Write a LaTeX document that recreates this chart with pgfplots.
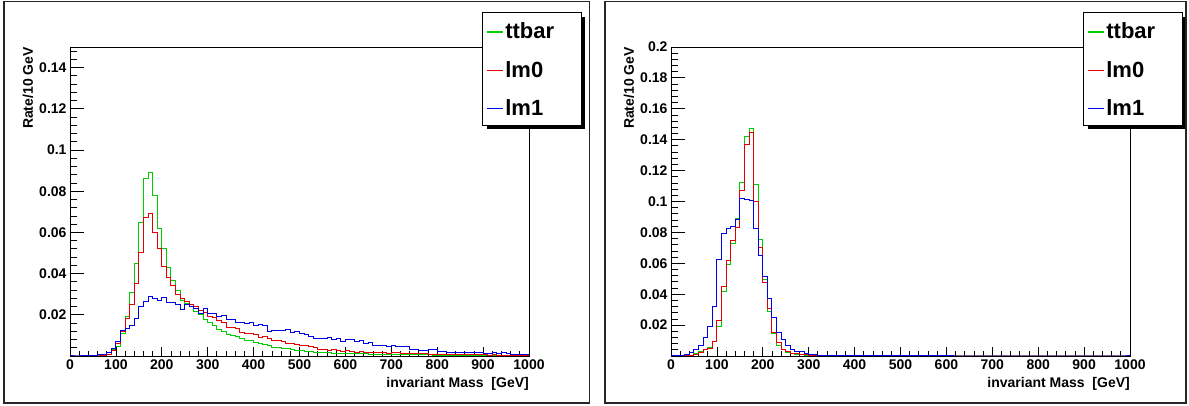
\documentclass[border=0pt]{standalone}
\usepackage{pgfplots}
\pgfplotsset{compat=1.18}
\usepackage{pgfplotstable}
\usepackage{fontspec}
\setmainfont{Liberation Sans}

\definecolor{hgreen}{RGB}{0,205,0}
\definecolor{hred}{RGB}{228,0,0}
\definecolor{hblue}{RGB}{0,0,228}

\pgfplotstableread{
x ttbar lm0 lm1
0 0 0 0
10 0 0 0
20 0 0 0
30 0 0 0.0002
40 0 0 0.0003
50 0 0 0.0004
60 0 0 0.0006
70 0.0002 0.0002 0.0009
80 0.0008 0.0008 0.0016
90 0.003 0.0025 0.0037
100 0.0045 0.006 0.007
110 0.011 0.012 0.0126
120 0.019 0.018 0.0134
130 0.031 0.025 0.0146
140 0.045 0.035 0.018
150 0.065 0.050 0.024
160 0.086 0.067 0.0264
170 0.089 0.069 0.0288
180 0.0777 0.060 0.028
190 0.062 0.052 0.027
200 0.052 0.0435 0.0285
210 0.043 0.038 0.026
220 0.0366 0.034 0.026
230 0.032 0.030 0.025
240 0.027 0.028 0.0227
250 0.0256 0.0265 0.025
260 0.024 0.025 0.024
270 0.0215 0.024 0.023
280 0.020 0.022 0.0207
290 0.0178 0.021 0.023
300 0.0162 0.019 0.0205
310 0.015 0.0185 0.0207
320 0.013 0.017 0.0194
330 0.0118 0.0163 0.0199
340 0.0102 0.0139 0.0175
350 0.0100 0.0139 0.0178
360 0.0094 0.0134 0.0163
370 0.0086 0.0115 0.0163
380 0.0075 0.0110 0.0159
390 0.0073 0.0110 0.0162
400 0.0065 0.0102 0.0150
410 0.0061 0.0091 0.0155
420 0.0058 0.0094 0.0147
430 0.0050 0.0086 0.0120
440 0.0043 0.0074 0.0123
450 0.0042 0.0073 0.0126
460 0.0037 0.0070 0.0126
470 0.0036 0.0061 0.0129
480 0.0032 0.0061 0.0113
490 0.0029 0.0058 0.0118
500 0.0026 0.0050 0.0110
510 0.0024 0.0049 0.0102
520 0.0021 0.0045 0.0094
530 0.0019 0.0039 0.0087
540 0.0019 0.0030 0.0087
550 0.0016 0.0032 0.0087
560 0.0016 0.0029 0.0089
570 0.0013 0.0032 0.0081
580 0.0013 0.0029 0.0086
590 0.0012 0.0023 0.0070
600 0.0012 0.0026 0.0078
610 0.0011 0.0021 0.0078
620 0.0011 0.0016 0.0070
630 0.0010 0.0022 0.0074
640 0.0010 0.0018 0.0061
650 0.0009 0.0016 0.0065
660 0.0009 0.0016 0.0053
670 0.0008 0.0015 0.0050
680 0.0008 0.0017 0.0050
690 0.0007 0.0013 0.0045
700 0.0007 0.0016 0.0049
710 0.0007 0.0015 0.0047
720 0.0006 0.0010 0.0045
730 0.0006 0.0013 0.0045
740 0.0006 0.0013 0.0032
750 0.0005 0.0012 0.0032
760 0.0005 0.0010 0.0029
770 0.0005 0.0010 0.0029
780 0.0005 0.0008 0.0032
790 0.0004 0.0008 0.0032
800 0.0004 0.0008 0.0024
810 0.0004 0.0007 0.0024
820 0.0004 0.0006 0.0019
830 0.0004 0.0007 0.0019
840 0.0003 0.0006 0.0019
850 0.0003 0.0006 0.0019
860 0.0003 0.0006 0.0016
870 0.0003 0.0005 0.0016
880 0.0003 0.0006 0.0019
890 0.0003 0.0005 0.0015
900 0.0003 0.0005 0.0013
910 0.0002 0.0004 0.0013
920 0.0002 0.0005 0.0016
930 0.0002 0.0004 0.0010
940 0.0002 0.0003 0.0016
950 0.0002 0.0003 0.0010
960 0.0002 0.0002 0.0008
970 0.0002 0.0003 0.0008
980 0.0002 0.0002 0.0008
990 0.0002 0.0002 0.0008
1000 0.0002 0.0002 0.0008
}\lefttab

\pgfplotstableread{
x ttbar lm0 lm1
0 0 0 0
10 0 0 0.0002
20 0 0 0.0003
30 0.0002 0.0002 0.0008
40 0.0006 0.0004 0.0024
50 0.0017 0.0011 0.0040
60 0.0028 0.0020 0.0070
70 0.0043 0.0040 0.0120
80 0.0054 0.0050 0.0190
90 0.0093 0.0097 0.0320
100 0.0190 0.0227 0.0626
110 0.0416 0.0453 0.0790
120 0.0590 0.0620 0.0826
130 0.0730 0.0750 0.0840
140 0.0887 0.0833 0.0885
150 0.1120 0.1070 0.1020
160 0.1420 0.1366 0.1016
170 0.1470 0.1448 0.1005
180 0.1110 0.1000 0.0826
190 0.0757 0.0700 0.0650
200 0.0496 0.0475 0.0513
210 0.0287 0.0310 0.0370
220 0.0147 0.0150 0.0246
230 0.0067 0.0086 0.0153
240 0.0039 0.0043 0.0104
250 0.0024 0.0030 0.0065
260 0.0017 0.0017 0.0043
270 0.0010 0.0013 0.0032
280 0.0008 0.0010 0.0028
290 0.0006 0.0008 0.0017
300 0.0005 0.0006 0.0011
310 0.0004 0.0005 0.0011
320 0.0003 0.0004 0.0006
330 0.0003 0.0003 0.0006
340 0.0002 0.0003 0.0006
350 0.0002 0.0002 0.0002
360 0.0001 0.0002 0.0002
370 0.0001 0.0001 0.0002
380 0.0001 0.0001 0.0001
390 0.0001 0.0001 0.0001
400 0.0001 0.0001 0.0001
410 0.0001 0.0001 0.0001
420 0.0001 0.0001 0.0001
430 0.0001 0.0001 0.0001
440 0.0001 0.0001 0.0001
450 0.0001 0.0001 0.0001
460 0 0 0.0001
470 0 0 0.0001
480 0 0 0.0001
490 0 0 0.0001
500 0 0 0.0001
510 0 0 0.0001
520 0 0 0.0001
530 0 0 0.0001
540 0 0 0.0001
550 0 0 0.0001
560 0 0 0.0001
570 0 0 0.0001
580 0 0 0.0001
590 0 0 0.0001
600 0 0 0.0001
610 0 0 0
620 0 0 0
630 0 0 0
640 0 0 0
650 0 0 0
660 0 0 0
670 0 0 0
680 0 0 0
690 0 0 0
700 0 0 0
710 0 0 0
720 0 0 0
730 0 0 0
740 0 0 0
750 0 0 0
760 0 0 0
770 0 0 0
780 0 0 0
790 0 0 0
800 0 0 0
810 0 0 0
820 0 0 0
830 0 0 0
840 0 0 0
850 0 0 0
860 0 0 0
870 0 0 0
880 0 0 0
890 0 0 0
900 0 0 0
910 0 0 0
920 0 0 0
930 0 0 0
940 0 0 0
950 0 0 0
960 0 0 0
970 0 0 0
980 0 0 0
990 0 0 0
1000 0 0 0
}\righttab

\newcommand{\legentry}[2]{\textcolor{#1}{\rule[6.3pt]{16pt}{1.4pt}}\hspace{2.5pt}\makebox[71.5pt][l]{#2}}

\pgfplotsset{
  rootaxis/.style={
    scale only axis, width=459pt, height=309pt,
    anchor=south west,
    xmin=0, xmax=1000, ymin=0,
    axis line style={line width=0.8pt},
    tick align=inside, xtick pos=bottom, ytick pos=left,
    xtick={0,100,...,1000}, minor x tick num=4,
    tick style={black, line width=0.8pt},
    major tick length=14pt, minor tick length=7pt,
    xtick style={/pgfplots/major tick length=9pt, /pgfplots/minor tick length=4.5pt},
    tick label style={font=\fontsize{14}{16}\selectfont\bfseries},
    /pgf/number format/assume math mode=true,
    /pgf/number format/1000 sep={},
    scaled y ticks=false,
    xlabel={invariant Mass\ \ [GeV]},
    ylabel={Rate/10 GeV},
    every axis x label/.style={at={(axis description cs:1,-0.068)}, anchor=north east, inner sep=0pt,
      font=\fontsize{14}{16}\selectfont\bfseries},
    every axis y label/.style={at={(axis description cs:-0.0915,1)}, rotate=90, anchor=east, inner sep=0pt,
      font=\fontsize{14}{16}\selectfont\bfseries},
    legend style={at={(axis description cs:0.899,1.111)}, anchor=north west,
      draw=none, fill=white,
      font=\fontsize{22}{26}\selectfont\bfseries,
      inner xsep=2pt, inner ysep=10pt, row sep=22.5pt,
      nodes={inner xsep=2pt, inner ysep=0pt, text depth=0pt}},
    legend cell align=left,
    legend image code/.code={},
    every axis plot/.append style={const plot mark left, no markers, line width=1pt},
  }
}

\begin{document}
\begin{tikzpicture}[font=\bfseries]
\useasboundingbox (0,0) rectangle (1189pt,406pt);
% legend shadows (drawn first, behind the legend boxes)
\fill[black] (486.7pt,276.6pt) rectangle (585pt,389.3pt);
\fill[black] (1087.6pt,276.6pt) rectangle (1186pt,389.3pt);

\begin{axis}[rootaxis, at={(70pt,50pt)}, ymax=0.15,
  ytick={0,0.02,0.04,0.06,0.08,0.1,0.12,0.14},
  yticklabels={{},0.02,0.04,0.06,0.08,0.1,0.12,0.14},
  minor ytick={0.004,0.008,...,0.149}]
\addplot[hgreen] table[x=x, y=ttbar] {\lefttab};
\addlegendentry{\legentry{hgreen}{ttbar}}
\addplot[hred] table[x=x, y=lm0] {\lefttab};
\addlegendentry{\legentry{hred}{lm0}}
\addplot[hblue] table[x=x, y=lm1] {\lefttab};
\addlegendentry{\legentry{hblue}{lm1}}
\end{axis}

\begin{axis}[rootaxis, at={(671pt,50pt)}, ymax=0.2,
  ytick={0,0.02,0.04,0.06,0.08,0.1,0.12,0.14,0.16,0.18,0.2},
  yticklabels={{},0.02,0.04,0.06,0.08,0.1,0.12,0.14,0.16,0.18,0.2},
  minor ytick={0.004,0.008,...,0.199}]
\addplot[hgreen] table[x=x, y=ttbar] {\righttab};
\addlegendentry{\legentry{hgreen}{ttbar}}
\addplot[hred] table[x=x, y=lm0] {\righttab};
\addlegendentry{\legentry{hred}{lm0}}
\addplot[hblue] table[x=x, y=lm1] {\righttab};
\addlegendentry{\legentry{hblue}{lm1}}
\end{axis}

% legend box borders
\draw[line width=0.8pt, black] (482.7pt,280.6pt) rectangle (581pt,393.3pt);
\draw[line width=0.8pt, black] (1083.6pt,280.6pt) rectangle (1182pt,393.3pt);

\draw[line width=1.3pt, black!85] (4pt,3pt) rectangle (589.5pt,404.5pt);
\draw[line width=1.3pt, black!85] (605pt,3pt) rectangle (1186pt,404.5pt);
\end{tikzpicture}
\end{document}
